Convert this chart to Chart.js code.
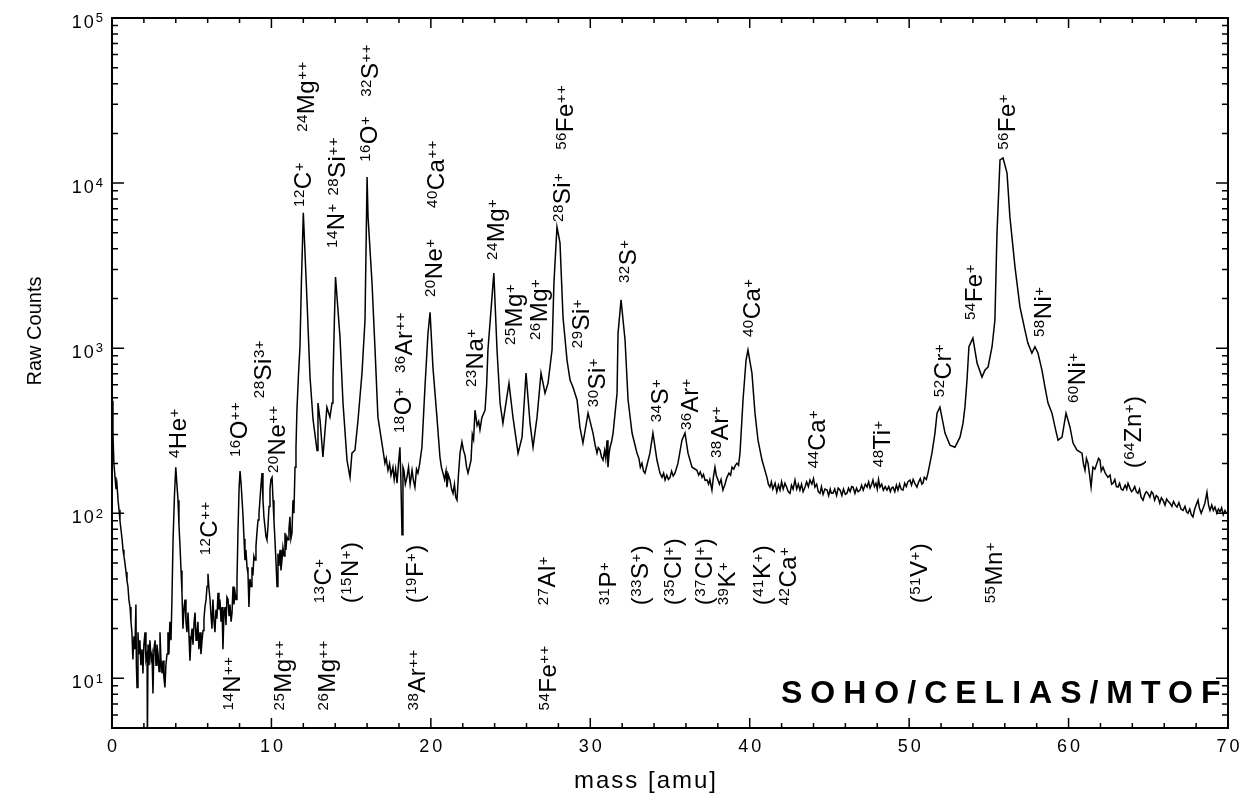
<!DOCTYPE html>
<html>
<head>
<meta charset="utf-8">
<script src="https://cdn.jsdelivr.net/npm/chart.js@4.4.0/dist/chart.umd.min.js"></script>
<style>
    html, body { margin: 0; padding: 0; background: #fff; }
    canvas { display: block; }
</style>
</head>
<body>
<canvas id="espectro" width="1250" height="802"></canvas>
<script>
// espectro MTOF: [massa (amu), contagens brutas]
var faixaBaixa = [
    [0, 480], [0.06, 300], [0.12, 200], [0.19, 165], [0.25, 140], [0.31, 150], [0.38, 120], [0.44, 105], [0.5, 90], [0.56, 80],
    [0.63, 70], [0.69, 60], [0.75, 55], [0.81, 50], [0.88, 44], [0.94, 39], [1.0, 36], [1.06, 30], [1.13, 27], [1.19, 22],
    [1.25, 19], [1.31, 13], [1.38, 18], [1.44, 15], [1.5, 28], [1.53, 12], [1.57, 8.8], [1.63, 19], [1.69, 14], [1.75, 17],
    [1.81, 12], [1.88, 15], [1.94, 10.7], [2.0, 16], [2.07, 19], [2.13, 13], [2.2, 14], [2.22, 4], [2.26, 16], [2.32, 12],
    [2.38, 17], [2.45, 13], [2.51, 14], [2.57, 8.1], [2.63, 15], [2.7, 17], [2.76, 12], [2.82, 16], [2.89, 14], [2.95, 11],
    [3.01, 19], [3.07, 13], [3.14, 10.7], [3.2, 12.8], [3.26, 10], [3.32, 8.8], [3.38, 12], [3.45, 14], [3.51, 19], [3.57, 14],
    [3.63, 22], [3.7, 17], [3.76, 30], [3.83, 69], [3.92, 130], [4.0, 190], [4.07, 150], [4.14, 120], [4.2, 85], [4.27, 62],
    [4.33, 45], [4.39, 33], [4.45, 20], [4.52, 27], [4.58, 30], [4.64, 22], [4.7, 19], [4.77, 25], [4.83, 18], [4.89, 12.8],
    [4.95, 17], [5.02, 20], [5.08, 16], [5.15, 22], [5.21, 25], [5.27, 17], [5.33, 19], [5.39, 22], [5.45, 15], [5.52, 19],
    [5.58, 14], [5.65, 17], [5.71, 19.5], [5.77, 23], [5.83, 27], [5.9, 30], [5.96, 36], [6.02, 43], [6.08, 35], [6.15, 30],
    [6.21, 24], [6.27, 20], [6.33, 30], [6.4, 22], [6.46, 19], [6.52, 26], [6.58, 23], [6.65, 33], [6.71, 26], [6.77, 30],
    [6.84, 22], [6.9, 27], [6.96, 15], [7.02, 24], [7.09, 27], [7.15, 21], [7.21, 31], [7.28, 30], [7.34, 24], [7.4, 28],
    [7.47, 22], [7.53, 25], [7.59, 36], [7.65, 28], [7.72, 33], [7.78, 30], [7.84, 39], [7.9, 76], [7.97, 140], [8.03, 180],
    [8.1, 150], [8.16, 120], [8.22, 95], [8.28, 70], [8.34, 52], [8.4, 60], [8.47, 47], [8.53, 43], [8.59, 27], [8.65, 40],
    [8.72, 36], [8.78, 47], [8.84, 42], [8.9, 55], [8.97, 52], [9.03, 63], [9.09, 76], [9.16, 91], [9.22, 100], [9.28, 120],
    [9.35, 150], [9.41, 175], [9.47, 120], [9.53, 95], [9.6, 82], [9.66, 72], [9.72, 69], [9.78, 82], [9.85, 110], [9.91, 140],
    [9.97, 160], [10.04, 165], [10.1, 120], [10.16, 90], [10.22, 69], [10.29, 50], [10.35, 36], [10.41, 57], [10.47, 48], [10.54, 60],
    [10.6, 45], [10.66, 52], [10.72, 62], [10.79, 55], [10.85, 76], [10.91, 60], [10.97, 72], [11.04, 69], [11.1, 80], [11.16, 95],
    [11.22, 70], [11.29, 76], [11.35, 120], [11.41, 100], [11.48, 190], [11.54, 250], [11.6, 420], [11.7, 700], [11.79, 1020], [11.88, 2500]
];

var faixaMedia = [
    [12.0, 6600], [12.23, 1960], [12.42, 670], [12.61, 370], [12.86, 240], [12.92, 465], [13.05, 366], [13.23, 219], [13.48, 439], [13.67, 382],
    [13.8, 465], [13.86, 641], [13.95, 1480], [14.02, 2700], [14.3, 1170], [14.49, 465], [14.74, 210], [14.93, 165], [15.05, 231], [15.24, 241],
    [15.43, 366], [15.68, 706], [15.87, 1480], [16.0, 10900], [16.06, 6240], [16.31, 2480], [16.5, 974], [16.68, 382], [16.93, 266], [17.03, 230],
    [17.12, 201], [17.2, 215], [17.31, 182], [17.41, 200], [17.5, 170], [17.62, 190], [17.7, 160], [17.79, 185], [17.88, 152], [17.97, 200],
    [18.06, 251], [18.12, 160], [18.19, 74], [18.25, 190], [18.31, 182], [18.4, 150], [18.5, 165], [18.6, 190], [18.7, 150], [18.82, 182],
    [18.9, 160], [19.0, 144], [19.1, 185], [19.19, 175], [19.3, 200], [19.44, 251], [19.63, 581], [19.82, 1230], [19.95, 1650], [20.13, 768],
    [20.38, 382], [20.57, 219], [20.66, 190], [20.76, 175], [20.86, 160], [20.95, 180], [21.01, 144], [21.1, 170], [21.2, 159], [21.3, 140],
    [21.39, 132], [21.48, 150], [21.56, 125], [21.64, 120], [21.73, 170], [21.83, 231], [21.95, 270], [22.05, 240], [22.14, 225], [22.24, 190],
    [22.33, 175], [22.42, 190], [22.52, 210], [22.6, 300], [22.68, 280], [22.77, 421], [22.9, 340], [23.0, 360], [23.08, 320], [23.2, 380],
    [23.3, 400], [23.4, 421], [23.5, 600], [23.58, 974], [23.95, 2850], [24.15, 974], [24.34, 465], [24.52, 351], [24.9, 614], [25.15, 382],
    [25.47, 231], [25.72, 289], [25.97, 706], [26.22, 351], [26.41, 251], [26.66, 382], [26.91, 706], [27.16, 534], [27.35, 614], [27.6, 974],
    [27.72, 2480], [27.91, 5420], [28.1, 4340], [28.29, 1540], [28.54, 847], [28.73, 641], [28.91, 581], [29.17, 485], [29.35, 332], [29.54, 266],
    [29.86, 404]
];

var faixaAlta = [
    [30.17, 306], [30.3, 260], [30.42, 231], [30.5, 250], [30.61, 241], [30.7, 220], [30.8, 210], [30.9, 240], [30.97, 215], [31.05, 277],
    [31.11, 190], [31.18, 230], [31.24, 251], [31.33, 270], [31.43, 306], [31.68, 534], [31.74, 1230], [31.93, 1960], [32.18, 1120], [32.37, 485],
    [32.62, 306], [32.93, 231], [33.05, 215], [33.14, 190], [33.24, 201], [33.34, 180], [33.43, 175], [33.74, 231], [33.93, 306], [34.18, 210],
    [34.37, 175], [34.5, 165], [34.6, 175], [34.69, 159], [34.8, 170], [34.9, 160], [35.0, 165], [35.1, 180], [35.2, 168], [35.31, 175],
    [35.5, 201], [35.75, 277], [35.94, 306], [36.13, 231], [36.38, 190], [36.69, 182], [36.8, 170], [36.9, 178], [37.01, 165], [37.1, 172],
    [37.2, 158], [37.32, 159], [37.42, 150], [37.5, 160], [37.63, 138], [37.72, 165], [37.82, 190], [37.9, 170], [38.01, 159], [38.1, 150],
    [38.2, 160], [38.32, 138], [38.45, 150], [38.57, 165], [38.7, 175], [38.8, 170], [38.89, 190], [39.0, 185], [39.1, 195], [39.2, 201],
    [39.3, 195], [39.39, 231], [39.58, 485], [39.77, 847], [39.89, 974], [40.14, 706], [40.33, 404], [40.52, 277], [40.77, 210], [41.08, 165],
    [41.17, 150], [41.27, 144], [41.36, 155], [41.45, 140], [41.59, 152], [41.7, 135], [41.8, 148], [41.9, 138], [42.0, 155], [42.1, 140],
    [42.21, 152], [42.3, 145], [42.42, 135], [42.53, 132], [42.62, 148], [42.72, 140], [42.84, 159], [42.95, 140], [43.05, 150], [43.15, 138],
    [43.25, 150], [43.35, 135], [43.47, 144], [43.57, 155], [43.68, 145], [43.78, 159], [43.9, 150], [44.0, 162], [44.09, 144], [44.2, 150],
    [44.3, 135], [44.41, 132], [44.5, 145], [44.6, 130], [44.72, 140], [44.85, 138], [44.95, 128], [45.05, 140], [45.12, 132], [45.22, 132],
    [45.33, 140], [45.45, 128], [45.55, 142], [45.67, 138], [45.78, 128], [45.88, 140], [46.0, 130], [46.1, 132], [46.2, 142], [46.3, 135],
    [46.4, 145], [46.48, 144], [46.6, 132], [46.7, 142], [46.8, 135], [46.92, 138], [47.02, 148], [47.12, 138], [47.25, 150], [47.36, 144],
    [47.46, 155], [47.55, 142], [47.65, 150], [47.73, 159], [47.82, 145], [47.92, 152], [48.0, 140], [48.08, 160], [48.17, 144], [48.28, 150],
    [48.38, 138], [48.5, 145], [48.61, 138], [48.72, 145], [48.82, 135], [48.9, 142], [48.99, 144], [49.1, 135], [49.2, 148], [49.3, 138],
    [49.4, 150], [49.5, 140], [49.61, 138], [49.72, 152], [49.82, 145], [49.92, 155], [50.05, 159], [50.15, 148], [50.25, 160], [50.38, 150],
    [50.49, 144], [50.6, 155], [50.7, 162], [50.8, 150], [50.87, 152], [50.95, 165], [51.08, 160], [51.18, 175], [51.43, 231], [51.62, 306],
    [51.75, 404], [51.93, 439], [52.25, 306], [52.56, 258], [52.87, 251], [53.19, 289], [53.38, 351], [53.5, 439], [53.63, 641], [53.75, 1020],
    [54.0, 1150], [54.26, 812], [54.57, 668], [54.76, 737], [54.95, 768], [55.2, 1020], [55.38, 1480], [55.51, 4990], [55.7, 13800], [55.89, 14200],
    [56.14, 11500], [56.32, 6240], [56.64, 3100], [56.95, 1780], [57.26, 1290], [57.45, 1070], [57.7, 934], [57.89, 1020], [58.08, 934], [58.33, 737],
    [58.52, 581], [58.71, 465], [58.96, 404], [59.15, 332], [59.34, 277], [59.59, 289], [59.84, 404], [60.09, 332], [60.28, 266], [60.53, 241],
    [60.84, 231], [60.93, 200], [61.03, 182], [61.12, 215], [61.22, 201], [61.32, 170], [61.41, 144], [61.53, 190], [61.65, 185], [61.78, 201],
    [61.88, 215], [61.97, 210], [62.05, 180], [62.16, 190], [62.3, 175], [62.47, 165], [62.6, 170], [62.7, 150], [62.79, 152], [62.9, 160],
    [63.0, 145], [63.1, 144], [63.2, 152], [63.3, 140], [63.41, 138], [63.55, 148], [63.65, 140], [63.73, 152], [63.85, 142], [63.95, 135],
    [64.04, 138], [64.15, 145], [64.25, 135], [64.35, 132], [64.45, 140], [64.55, 125], [64.67, 120], [64.78, 130], [64.88, 135], [64.98, 132],
    [65.1, 125], [65.2, 135], [65.29, 132], [65.4, 120], [65.5, 128], [65.61, 125], [65.72, 115], [65.82, 124], [65.92, 120], [66.05, 112],
    [66.15, 122], [66.25, 118], [66.36, 115], [66.48, 110], [66.58, 118], [66.7, 112], [66.8, 109], [66.92, 116], [67.05, 106], [67.18, 104],
    [67.3, 110], [67.4, 102], [67.49, 100], [67.6, 106], [67.7, 98], [67.8, 95], [67.9, 105], [68.0, 112], [68.12, 120], [68.2, 108],
    [68.32, 100], [68.45, 108], [68.55, 115], [68.68, 134], [68.78, 112], [68.87, 104], [68.98, 112], [69.08, 104], [69.18, 109], [69.3, 100],
    [69.4, 106], [69.5, 102], [69.6, 108], [69.7, 98], [69.81, 104], [69.9, 100], [70.0, 100]
];

// marcas dos eixos
var marcasX = [0, 10, 20, 30, 40, 50, 60, 70];
var expoentesY = [1, 2, 3, 4, 5];

// identificacao dos ions: [isotopo, elemento, carga, massa, contagem no pe do texto, entre parenteses]
var rotulos = [
    ['12', 'C', '+', 12.01, 7175, 0],
    ['24', 'Mg', '++', 12.17, 20440, 0],
    ['14', 'N', '+', 14.05, 4046, 0],
    ['28', 'Si', '++', 14.11, 8400, 0],
    ['16', 'O', '+', 16.12, 13450, 0],
    ['32', 'S', '++', 16.18, 33320, 0],
    ['20', 'Ne', '+', 20.2, 2041, 0],
    ['40', 'Ca', '++', 20.32, 7074, 0],
    ['24', 'Mg', '+', 24.09, 3422, 0],
    ['28', 'Si', '+', 28.23, 5817, 0],
    ['56', 'Fe', '++', 28.41, 15900, 0],
    ['32', 'S', '+', 32.37, 2482, 0],
    ['40', 'Ca', '+', 40.14, 1168, 0],
    ['54', 'Fe', '+', 54.07, 1481, 0],
    ['56', 'Fe', '+', 56.14, 15900, 0],
    ['58', 'Ni', '+', 58.39, 1168, 0],
    ['60', 'Ni', '+', 60.53, 465, 0],
    ['64', 'Zn', '+', 64.04, 187, 1],
    ['52', 'Cr', '+', 52.12, 505, 0],
    ['48', 'Ti', '+', 48.3, 190, 0],
    ['44', 'Ca', '+', 44.22, 187, 0],
    ['38', 'Ar', '+', 38.14, 216, 0],
    ['36', 'Ar', '+', 36.25, 319, 0],
    ['34', 'S', '+', 34.37, 356, 0],
    ['30', 'Si', '+', 30.42, 439, 0],
    ['29', 'Si', '+', 29.42, 1000, 0],
    ['25', 'Mg', '+', 25.21, 1044, 0],
    ['26', 'Mg', '+', 26.78, 1120, 0],
    ['23', 'Na', '+', 22.77, 581, 0],
    ['18', 'O', '+', 18.25, 306, 0],
    ['36', 'Ar', '++', 18.32, 706, 0],
    ['4', 'He', '+', 4.14, 216, 0],
    ['16', 'O', '++', 7.97, 219, 0],
    ['20', 'Ne', '++', 10.35, 175, 0],
    ['28', 'Si', '3+', 9.47, 498, 0],
    ['12', 'C', '++', 6.08, 55.6, 0],
    ['13', 'C', '+', 13.23, 28.5, 0],
    ['15', 'N', '+', 14.93, 28.5, 1],
    ['19', 'F', '+', 19.01, 28.5, 1],
    ['27', 'Al', '+', 27.28, 27.7, 0],
    ['31', 'P', '+', 31.11, 27.7, 0],
    ['33', 'S', '+', 33.12, 27.7, 1],
    ['35', 'Cl', '+', 35.19, 27.7, 1],
    ['37', 'Cl', '+', 37.13, 27.7, 1],
    ['39', 'K', '+', 38.57, 27.7, 0],
    ['41', 'K', '+', 40.77, 27.7, 1],
    ['42', 'Ca', '+', 42.4, 27.7, 0],
    ['51', 'V', '+', 50.62, 28.5, 1],
    ['55', 'Mn', '+', 55.32, 28.5, 0],
    ['14', 'N', '++', 7.53, 6.39, 0],
    ['25', 'Mg', '++', 10.73, 6.39, 0],
    ['26', 'Mg', '++', 13.49, 6.39, 0],
    ['38', 'Ar', '++', 19.13, 6.39, 0],
    ['54', 'Fe', '++', 27.35, 6.39, 0]
];

var FONTE = "'Liberation Sans', Arial, Helvetica, sans-serif";

function PegarPontos() {
    var todos = faixaBaixa.concat(faixaMedia, faixaAlta);
    var pontos = [];
    for (var i = 0; i < todos.length; i++) {
        pontos.push({ x: todos[i][0], y: todos[i][1] });
    }
    return pontos;
}

function desenharRotulo(ctx, x, y, r) {
    var grande = '24px ' + FONTE;
    var pequena = '15px ' + FONTE;
    var pos = 0;

    ctx.save();
    ctx.translate(x, y);
    ctx.rotate(-Math.PI / 2);
    ctx.letterSpacing = '0.5px';
    ctx.textAlign = 'left';
    ctx.textBaseline = 'alphabetic';

    function parte(texto, fonte, dy) {
        ctx.font = fonte;
        ctx.fillText(texto, pos, dy);
        pos += ctx.measureText(texto).width;
    }

    if (r[5]) parte('(', grande, 0);
    parte(r[0], pequena, -7);
    parte(r[1], grande, 0);
    parte(r[2], pequena, -7);
    if (r[5]) parte(')', grande, 0);
    ctx.restore();
}

var moldura = {
    id: 'moldura',
    afterDraw: function (chart) {
        var ctx = chart.ctx;
        var a = chart.chartArea;
        var sx = chart.scales.x;
        var sy = chart.scales.y;
        var m, d, k, px, py, len;

        ctx.save();
        ctx.strokeStyle = '#000';
        ctx.fillStyle = '#000';

        // tracinhos para dentro nos quatro lados
        ctx.lineWidth = 1.5;
        ctx.beginPath();
        for (m = 0; m <= 70; m += 2) {
            px = sx.getPixelForValue(m);
            len = m % 10 === 0 ? 10 : 5;
            ctx.moveTo(px, a.bottom); ctx.lineTo(px, a.bottom - len);
            ctx.moveTo(px, a.top); ctx.lineTo(px, a.top + len);
        }
        for (d = 0; d <= 5; d++) {
            for (k = 1; k <= 9; k++) {
                var v = k * Math.pow(10, d);
                if (v < 5 || v > 100000) continue;
                py = sy.getPixelForValue(v);
                len = k === 1 ? 12 : 6;
                ctx.moveTo(a.left, py); ctx.lineTo(a.left + len, py);
                ctx.moveTo(a.right, py); ctx.lineTo(a.right - len, py);
            }
        }
        ctx.stroke();

        ctx.lineWidth = 2;
        ctx.strokeRect(a.left, a.top, a.right - a.left, a.bottom - a.top);

        // numeros do eixo x
        ctx.font = '18px ' + FONTE;
        ctx.letterSpacing = '3px';
        ctx.textAlign = 'center';
        ctx.textBaseline = 'top';
        for (var i = 0; i < marcasX.length; i++) {
            px = sx.getPixelForValue(marcasX[i]);
            ctx.fillText(String(marcasX[i]), px + 1.5, a.bottom + 10);
        }

        // potencias de dez no eixo y
        ctx.textAlign = 'right';
        ctx.textBaseline = 'alphabetic';
        for (i = 0; i < expoentesY.length; i++) {
            py = sy.getPixelForValue(Math.pow(10, expoentesY[i]));
            ctx.font = '13px ' + FONTE;
            ctx.letterSpacing = '0px';
            var exp = String(expoentesY[i]);
            var w = ctx.measureText(exp).width;
            ctx.fillText(exp, a.left - 9, py - 5 + 9.3);
            ctx.font = '18px ' + FONTE;
            ctx.letterSpacing = '2px';
            ctx.fillText('10', a.left - 9 - w, py + 9.5);
        }

        // titulos dos eixos
        ctx.letterSpacing = '2px';
        ctx.font = '24px ' + FONTE;
        ctx.textAlign = 'center';
        ctx.textBaseline = 'middle';
        ctx.fillText('mass [amu]', 646, a.bottom + 53);
        ctx.letterSpacing = '0px';
        ctx.font = '20px ' + FONTE;
        ctx.save();
        ctx.translate(35, 331);
        ctx.rotate(-Math.PI / 2);
        ctx.fillText('Raw Counts', 0, 0);
        ctx.restore();

        // nome do instrumento
        ctx.font = 'bold 32px ' + FONTE;
        ctx.letterSpacing = '8px';
        ctx.textAlign = 'left';
        ctx.textBaseline = 'alphabetic';
        ctx.fillText('SOHO/CELIAS/MTOF', 781, 703);

        // ions identificados
        for (i = 0; i < rotulos.length; i++) {
            px = sx.getPixelForValue(rotulos[i][3]);
            py = sy.getPixelForValue(rotulos[i][4]);
            desenharRotulo(ctx, px + 8, py, rotulos[i]);
        }
        ctx.restore();
    }
};

var ctx = document.getElementById('espectro').getContext('2d');
var grafico = new Chart(ctx, {
    type: 'line',
    data: {
        datasets: [{
            label: 'Raw Counts',
            data: PegarPontos(),
            borderColor: '#000',
            borderWidth: 1.5,
            pointRadius: 0,
            tension: 0,
            fill: false
        }]
    },
    options: {
        responsive: false,
        animation: false,
        layout: { padding: { left: 112, top: 18, right: 22, bottom: 74 } },
        plugins: {
            legend: { display: false },
            tooltip: { enabled: false }
        },
        scales: {
            x: { type: 'linear', min: 0, max: 70, display: false },
            y: { type: 'logarithmic', min: 5, max: 100000, display: false }
        }
    },
    plugins: [moldura]
});
</script>
</body>
</html>
